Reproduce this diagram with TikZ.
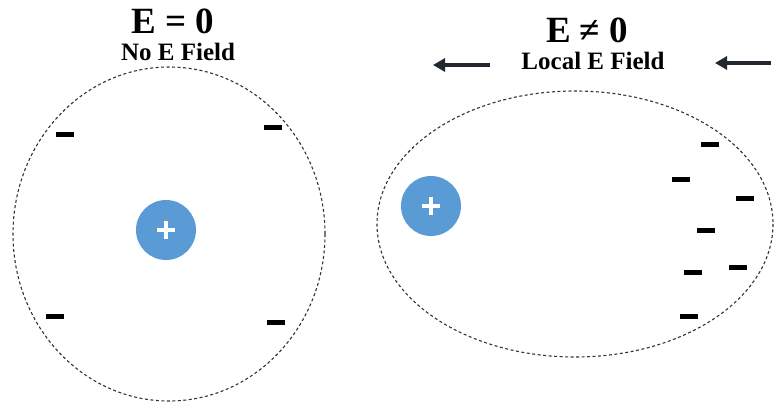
\documentclass[tikz,border=0pt]{standalone}
\usepackage{fontspec}
\setmainfont{Liberation Serif}
\usetikzlibrary{arrows.meta}
\definecolor{chargeblue}{RGB}{91,155,213}
\definecolor{arrowgray}{RGB}{35,40,48}

\tikzset{
  pcharge/.style={circle,fill=chargeblue,minimum size=60pt,inner sep=0pt,
    path picture={
      \draw[white,line width=4pt]
        ([xshift=-9pt]path picture bounding box.center) -- ([xshift=9pt]path picture bounding box.center)
        ([yshift=-9pt]path picture bounding box.center) -- ([yshift=9pt]path picture bounding box.center);
    }},
  ncharge/.style={rectangle,fill=black,minimum width=18pt,minimum height=5pt,inner sep=0pt},
  cloud/.style={draw=black!80,line width=1.1pt,dash pattern=on 3pt off 2.5pt},
  fieldarrow/.style={arrowgray,line width=4pt,-{Triangle[length=12pt,width=13pt]}}
}

\begin{document}
\begin{tikzpicture}[x=1pt,y=-1pt]
\useasboundingbox (0,0) rectangle (774,404);

% atom with no field
\node (eqzero) at (173,21) {\fontsize{37}{40}\selectfont\textbf{E = 0}};
\node (nofield) at (178,52) {\fontsize{25}{28}\selectfont\textbf{No E Field}};
\draw[cloud] (169,234) ellipse [x radius=156, y radius=167];
\node[pcharge] (nucA) at (166,230) {};
\node[ncharge] (eA1) at (65,134) {};
\node[ncharge] (eA2) at (273,127) {};
\node[ncharge] (eA3) at (55,316) {};
\node[ncharge] (eA4) at (276,322) {};

% polarised atom in a local field
\node (neqzero) at (587,30) {\fontsize{37}{40}\selectfont\textbf{E ≠ 0}};
\node (locfield) at (593,61) {\fontsize{25}{28}\selectfont\textbf{Local E Field}};
\coordinate (fL1) at (490,65);
\coordinate (fL2) at (433,65);
\coordinate (fR1) at (771,63);
\coordinate (fR2) at (715,63);
\draw[fieldarrow] (fL1) -- (fL2);
\draw[fieldarrow] (fR1) -- (fR2);
\draw[cloud] (575,224) ellipse [x radius=198, y radius=133];
\node[pcharge] (nucB) at (431,206) {};
\node[ncharge] (eB1) at (710,144) {};
\node[ncharge] (eB2) at (681,179) {};
\node[ncharge] (eB3) at (745,198) {};
\node[ncharge] (eB4) at (706,230) {};
\node[ncharge] (eB5) at (738,267) {};
\node[ncharge] (eB6) at (693,272) {};
\node[ncharge] (eB7) at (689,316) {};
\end{tikzpicture}
\end{document}
